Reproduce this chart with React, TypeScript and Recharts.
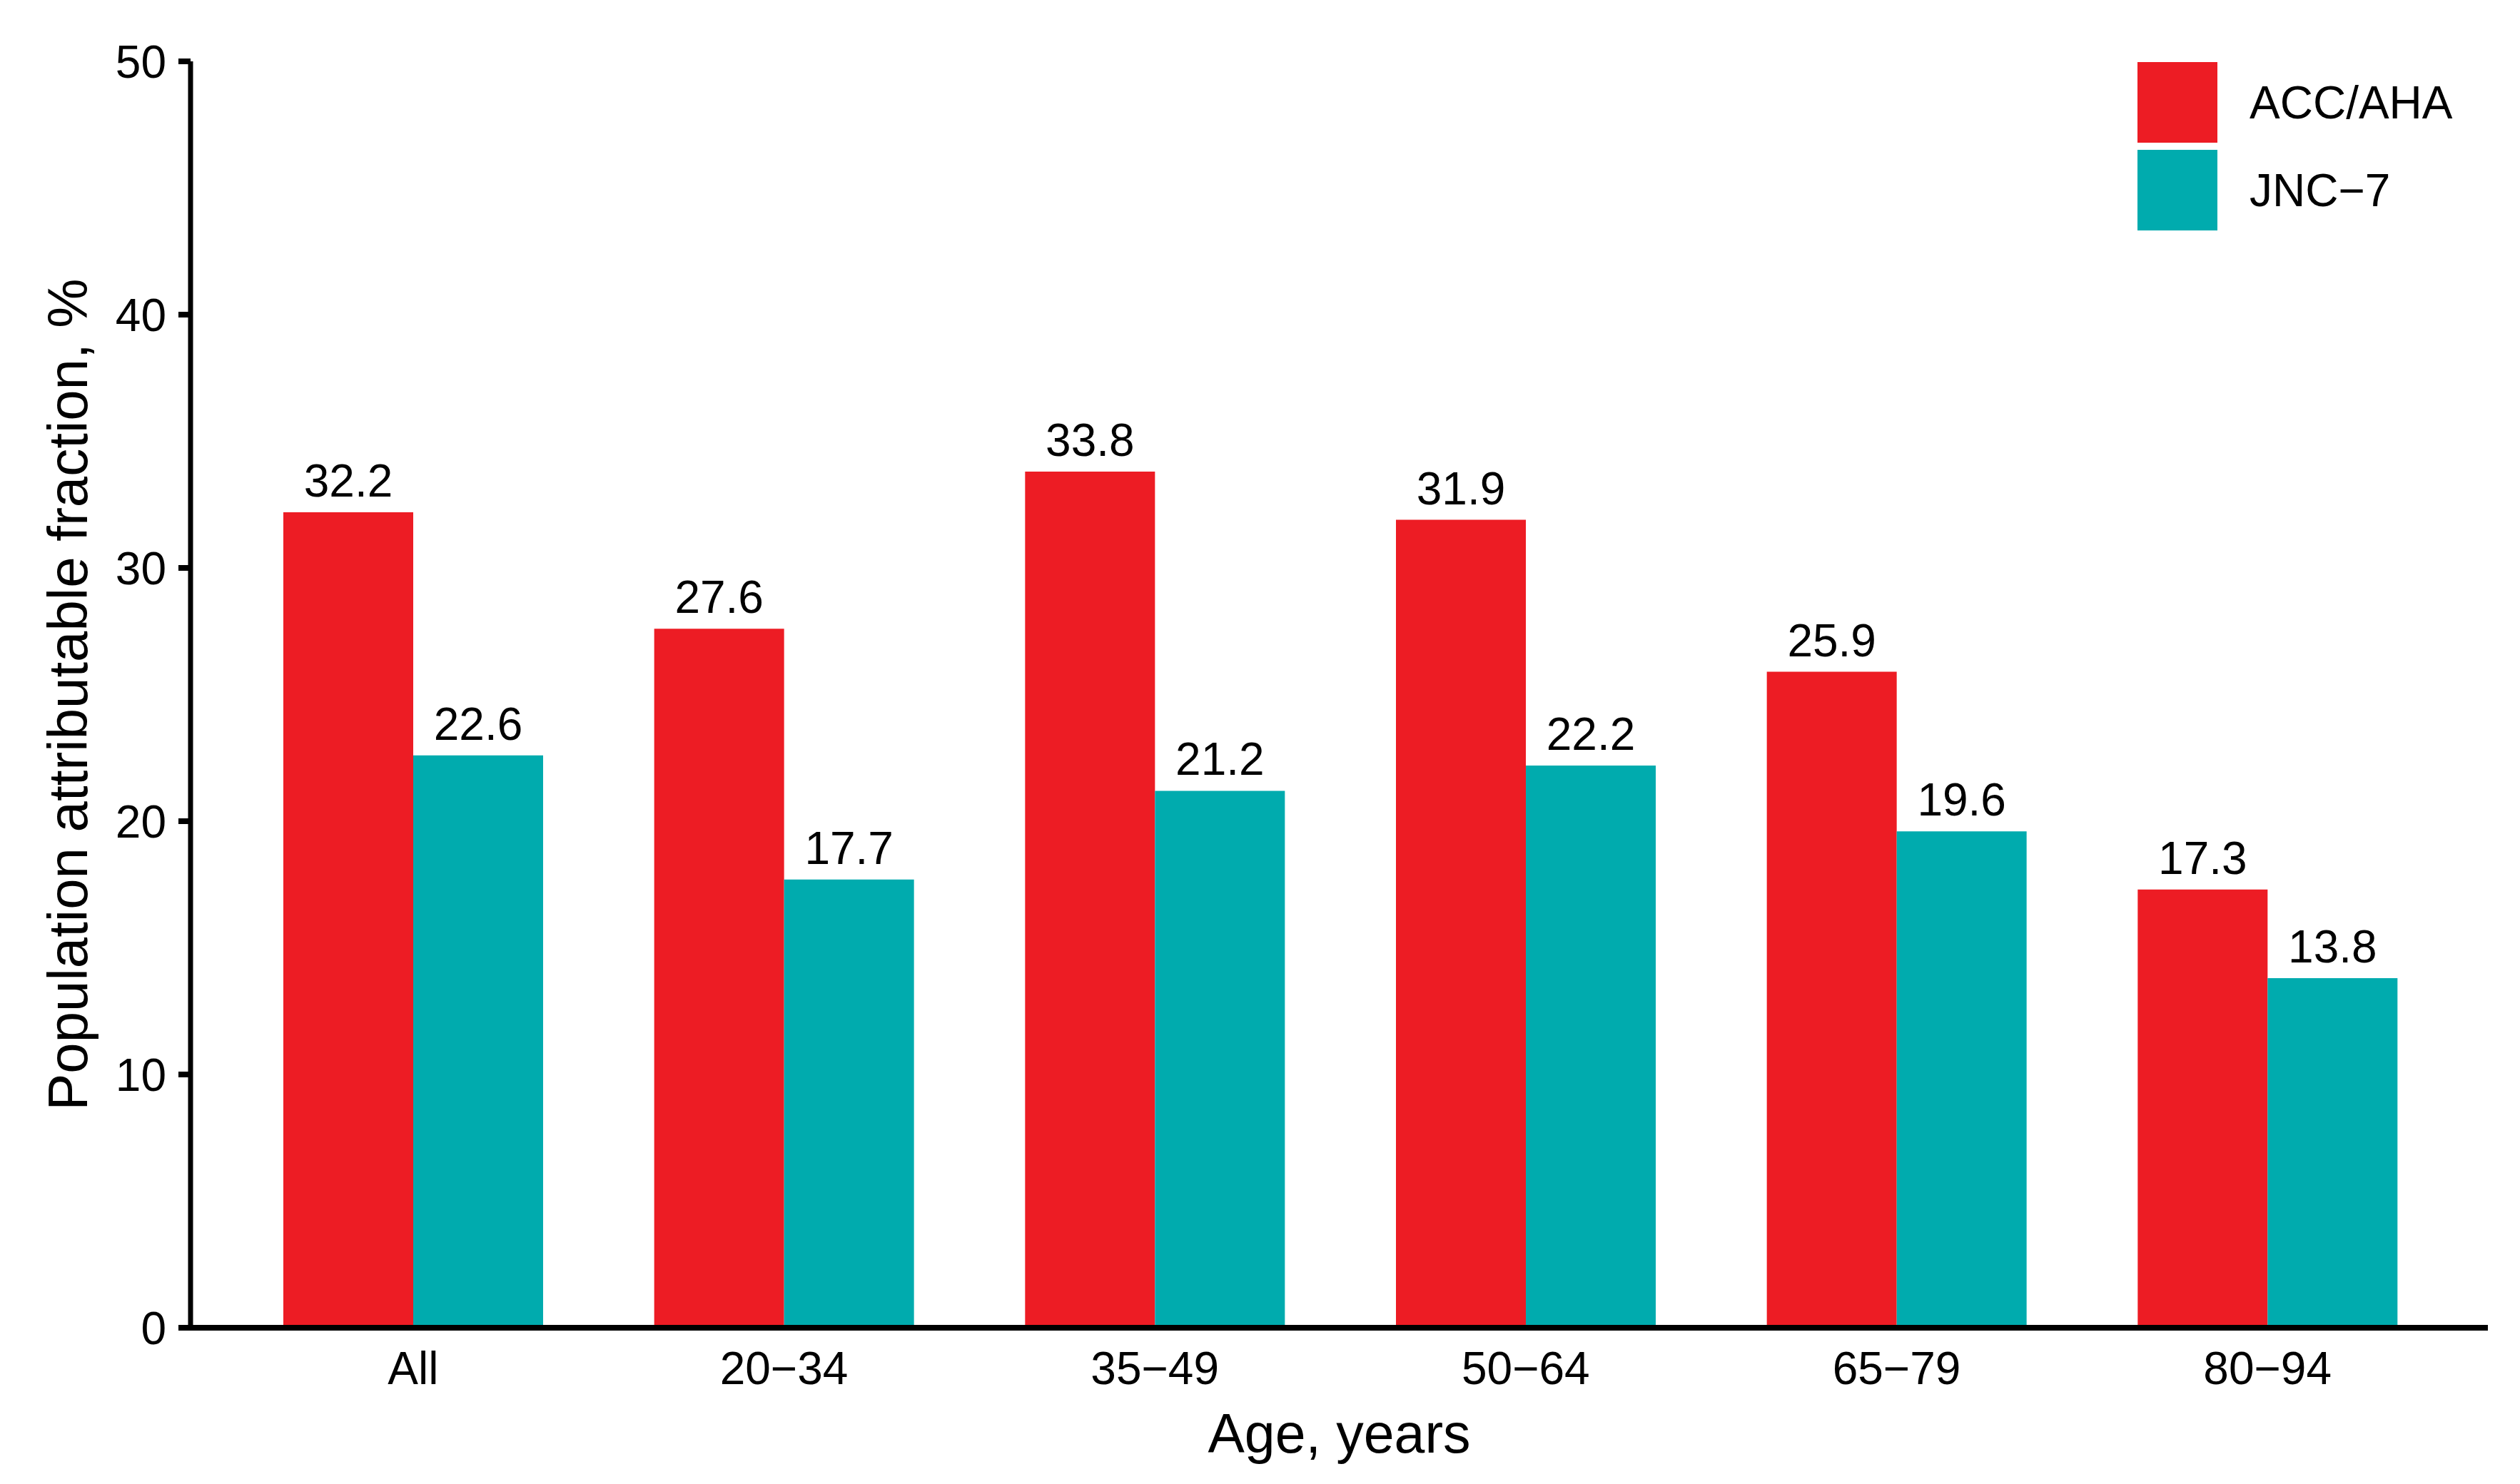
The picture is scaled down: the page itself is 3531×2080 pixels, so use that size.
import React from 'react'
import {
  BarChart,
  Bar,
  XAxis,
  YAxis,
  Legend,
  LabelList,
} from 'recharts'

document.body.style.margin = '0'

const ageGroups = ['All', '20−34', '35−49', '50−64', '65−79', '80−94']
const accAha = [32.2, 27.6, 33.8, 31.9, 25.9, 17.3]
const jnc7 = [22.6, 17.7, 21.2, 22.2, 19.6, 13.8]
const yTicks = [0, 10, 20, 30, 40, 50]

const RED = '#ED1C24'
const TEAL = '#00ABAE'
const FONT = '"Liberation Sans", Arial, Helvetica, sans-serif'

const data = ageGroups.map((age, i) => ({
  age,
  acc: accAha[i],
  jnc: jnc7[i],
}))

// eslint-disable-next-line @typescript-eslint/no-explicit-any
function LegendBox({ payload }: any) {
  if (!payload?.length) return null
  return (
    <div style={{ fontFamily: FONT }}>
      {payload.map((entry: any, i: number) => (
        <div
          key={i}
          style={{ display: 'flex', alignItems: 'center', marginBottom: i === 0 ? 10 : 0 }}
        >
          <div style={{ width: 112, height: 113, background: entry.color }} />
          <span style={{ marginLeft: 45, fontSize: 64, color: '#000', lineHeight: 1 }}>
            {entry.value}
          </span>
        </div>
      ))}
    </div>
  )
}

// eslint-disable-next-line @typescript-eslint/no-explicit-any
function YTitle({ viewBox }: any) {
  const cy = viewBox.y + viewBox.height / 2
  return (
    <text
      x={95}
      y={cy}
      transform={`rotate(-90, 95, ${cy})`}
      textAnchor="middle"
      dominantBaseline="central"
      fontSize={78}
      fill="#000"
      fontFamily={FONT}
    >
      Population attributable fraction, %
    </text>
  )
}

// eslint-disable-next-line @typescript-eslint/no-explicit-any
function XTitle({ viewBox }: any) {
  return (
    <text
      x={viewBox.x + viewBox.width / 2}
      y={2036}
      textAnchor="middle"
      fontSize={77}
      fill="#000"
      fontFamily={FONT}
    >
      Age, years
    </text>
  )
}

export default function App() {
  return (
    <div style={{ width: 3531, height: 2080, background: '#fff', fontFamily: FONT }}>
      <BarChart
        width={3531}
        height={2080}
        data={data}
        margin={{ top: 86, right: 45, bottom: 0, left: 0 }}
        barCategoryGap={78}
        barGap={0}
      >
        <XAxis
          dataKey="age"
          height={219}
          padding={{ left: 52, right: 49 }}
          axisLine={{ stroke: '#000', strokeWidth: 8 }}
          tickLine={false}
          tickSize={0}
          tickMargin={34}
          tick={{ fontSize: 64, fill: '#000', fontFamily: FONT }}
          label={<XTitle />}
        />
        <YAxis
          width={267}
          domain={[0, 50]}
          ticks={yTicks}
          interval={0}
          axisLine={{ stroke: '#000', strokeWidth: 7 }}
          tickLine={{ stroke: '#000', strokeWidth: 8 }}
          tickSize={17}
          tickMargin={17}
          tick={{ fontSize: 64, fill: '#000', fontFamily: FONT }}
          label={<YTitle />}
        />
        <Legend
          layout="vertical"
          align="center"
          verticalAlign="middle"
          content={<LegendBox />}
          wrapperStyle={{ position: 'absolute', left: 2995, top: 87, width: 520 }}
        />
        <Bar dataKey="acc" name="ACC/AHA" fill={RED} isAnimationActive={false}>
          <LabelList
            dataKey="acc"
            position="top"
            offset={22}
            formatter={(v: number) => v.toFixed(1)}
            style={{ fontSize: 64, fill: '#000', fontFamily: FONT }}
          />
        </Bar>
        <Bar dataKey="jnc" name="JNC−7" fill={TEAL} isAnimationActive={false}>
          <LabelList
            dataKey="jnc"
            position="top"
            offset={22}
            formatter={(v: number) => v.toFixed(1)}
            style={{ fontSize: 64, fill: '#000', fontFamily: FONT }}
          />
        </Bar>
      </BarChart>
    </div>
  )
}
